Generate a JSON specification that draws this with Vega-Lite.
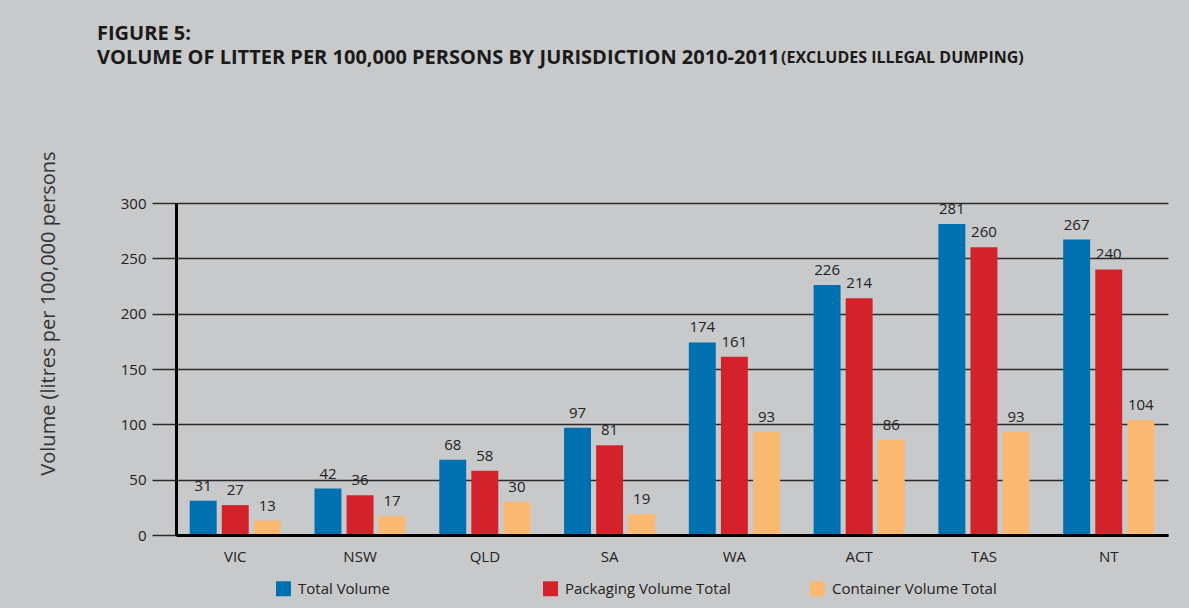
{
  "$schema": "https://vega.github.io/schema/vega-lite/v6.json",
  "width": 992,
  "height": 332,
  "autosize": "none",
  "padding": {"left": 176, "top": 203, "right": 21, "bottom": 73},
  "background": "#c8c9cb",
  "title": {
    "text": ["FIGURE 5:", "VOLUME OF LITTER PER 100,000 PERSONS BY JURISDICTION 2010-2011"],
    "subtitle": "\u2800\u2800\u2800\u2800\u2800\u2800\u2800\u2800\u2800\u2800\u2800\u2800\u2800\u2800\u2800\u2800\u2800\u2800\u2800\u2800\u2800\u2800\u2800\u2800\u2800\u2800\u2800\u2800\u2800\u2800\u2800\u2800\u2800\u2800\u2800\u2800\u2800\u2800\u2800\u2800\u2800\u2800\u2800\u2800\u2800\u2800\u2800\u2800\u2800\u2800\u2800\u2800\u2800\u2800\u2800\u2800\u2800(EXCLUDES ILLEGAL DUMPING)",
    "anchor": "start",
    "frame": "group",
    "dx": -79,
    "font": "Open Sans",
    "fontSize": 20,
    "fontWeight": "bold",
    "color": "#1a1a1a",
    "lineHeight": 24,
    "subtitleFont": "Open Sans",
    "subtitleFontSize": 16,
    "subtitleFontWeight": "bold",
    "subtitleColor": "#1a1a1a",
    "subtitlePadding": -18,
    "offset": 83
  },
  "config": {
    "view": {"stroke": null},
    "font": "Open Sans"
  },
  "data": {
    "values": [
      {"jurisdiction": "VIC", "series": "Total Volume", "value": 31},
      {"jurisdiction": "VIC", "series": "Packaging Volume Total", "value": 27},
      {"jurisdiction": "VIC", "series": "Container Volume Total", "value": 13},
      {"jurisdiction": "NSW", "series": "Total Volume", "value": 42},
      {"jurisdiction": "NSW", "series": "Packaging Volume Total", "value": 36},
      {"jurisdiction": "NSW", "series": "Container Volume Total", "value": 17},
      {"jurisdiction": "QLD", "series": "Total Volume", "value": 68},
      {"jurisdiction": "QLD", "series": "Packaging Volume Total", "value": 58},
      {"jurisdiction": "QLD", "series": "Container Volume Total", "value": 30},
      {"jurisdiction": "SA", "series": "Total Volume", "value": 97},
      {"jurisdiction": "SA", "series": "Packaging Volume Total", "value": 81},
      {"jurisdiction": "SA", "series": "Container Volume Total", "value": 19},
      {"jurisdiction": "WA", "series": "Total Volume", "value": 174},
      {"jurisdiction": "WA", "series": "Packaging Volume Total", "value": 161},
      {"jurisdiction": "WA", "series": "Container Volume Total", "value": 93},
      {"jurisdiction": "ACT", "series": "Total Volume", "value": 226},
      {"jurisdiction": "ACT", "series": "Packaging Volume Total", "value": 214},
      {"jurisdiction": "ACT", "series": "Container Volume Total", "value": 86},
      {"jurisdiction": "TAS", "series": "Total Volume", "value": 281},
      {"jurisdiction": "TAS", "series": "Packaging Volume Total", "value": 260},
      {"jurisdiction": "TAS", "series": "Container Volume Total", "value": 93},
      {"jurisdiction": "NT", "series": "Total Volume", "value": 267},
      {"jurisdiction": "NT", "series": "Packaging Volume Total", "value": 240},
      {"jurisdiction": "NT", "series": "Container Volume Total", "value": 104}
    ]
  },
  "encoding": {
    "x": {
      "field": "jurisdiction",
      "type": "nominal",
      "sort": ["VIC", "NSW", "QLD", "SA", "WA", "ACT", "TAS", "NT"],
      "scale": {"paddingInner": 0.27, "paddingOuter": 0.11},
      "axis": {
        "title": null,
        "labelAngle": 0,
        "ticks": false,
        "domainColor": "#000000",
        "domainWidth": 3,
        "labelFont": "Open Sans",
        "labelFontSize": 15,
        "labelColor": "#222222",
        "labelPadding": 14,
        "zindex": 1
      }
    },
    "xOffset": {
      "field": "series",
      "type": "nominal",
      "sort": ["Total Volume", "Packaging Volume Total", "Container Volume Total"],
      "scale": {"paddingInner": 0.16, "paddingOuter": 0}
    },
    "y": {
      "field": "value",
      "type": "quantitative",
      "scale": {"domain": [0, 300], "nice": false},
      "axis": {
        "values": [0, 50, 100, 150, 200, 250, 300],
        "grid": true,
        "gridColor": "#2a2a2a",
        "gridWidth": 1.5,
        "gridOpacity": 1,
        "tickSize": 24,
        "tickColor": "#2a2a2a",
        "tickWidth": 1.5,
        "domainColor": "#000000",
        "domainWidth": 3,
        "labelPadding": 6,
        "labelFont": "Open Sans",
        "labelFontSize": 15,
        "labelColor": "#222222",
        "title": "Volume (litres per 100,000 persons",
        "titleFont": "Open Sans",
        "titleFontSize": 20,
        "titleFontWeight": "normal",
        "titleColor": "#333333",
        "titleX": -128,
        "titleY": 110,
        "titleAngle": -90,
        "titleAlign": "center",
        "titleBaseline": "middle"
      }
    }
  },
  "layer": [
    {
      "mark": {"type": "bar"},
      "encoding": {
        "color": {
          "field": "series",
          "type": "nominal",
          "sort": ["Total Volume", "Packaging Volume Total", "Container Volume Total"],
          "scale": {
            "domain": ["Total Volume", "Packaging Volume Total", "Container Volume Total"],
            "range": ["#0070b0", "#d3222a", "#fbb870"]
          },
          "legend": {
            "title": null,
            "orient": "none",
            "legendX": 100,
            "legendY": 378,
            "direction": "horizontal",
            "symbolType": "square",
            "symbolSize": 225,
            "symbolStrokeWidth": 0,
            "symbolOpacity": 1,
            "labelFont": "Open Sans",
            "labelFontSize": 15,
            "labelColor": "#222222",
            "labelOffset": 7,
            "labelLimit": 400,
            "gridAlign": "all",
            "columnPadding": 79
          }
        }
      }
    },
    {
      "mark": {"type": "text", "baseline": "bottom", "dy": -7, "font": "Open Sans", "fontSize": 15, "color": "#222222"},
      "encoding": {
        "text": {"field": "value", "type": "quantitative"}
      }
    }
  ]
}
